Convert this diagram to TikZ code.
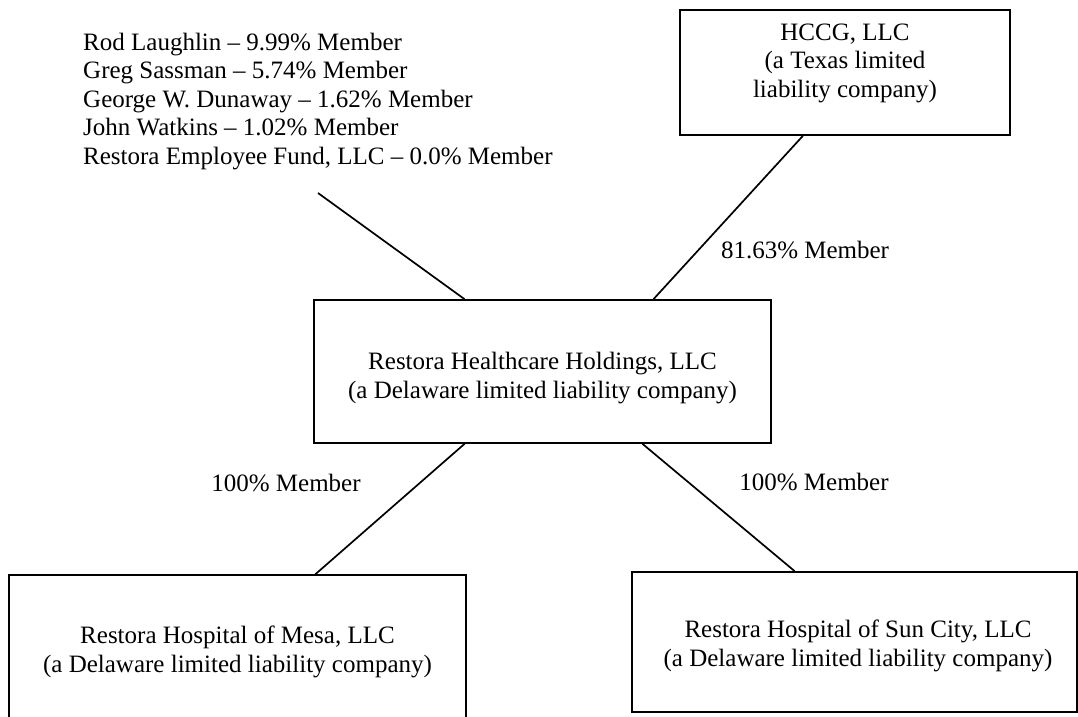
\documentclass[tikz,border=0pt]{standalone}
\usepackage{fontspec}
\setmainfont{Liberation Serif}
\usetikzlibrary{calc}
\begin{document}
\begin{tikzpicture}[x=1pt,y=-1pt,
  box/.style={draw=black,line width=1.7pt,inner sep=0pt,rectangle},
  conn/.style={draw=black,line width=1.7pt},
  txt/.style={font=\fontsize{25}{28.5}\selectfont,align=center,inner sep=0pt},
  listtxt/.style={font=\fontsize{25}{28.5}\selectfont,anchor=base west,inner sep=0pt}]
\useasboundingbox (0,0) rectangle (1078,716);
\clip (0,0) rectangle (1078,716);
\fill[white] (0,0) rectangle (1078,716);

% boxes
\node[box,minimum width=330pt,minimum height=125pt] (hccg) at (845,72.5) {};
\node[box,minimum width=457pt,minimum height=143pt] (rhh) at (542.5,371.5) {};
\node[box,minimum width=457pt,minimum height=170pt] (mesa) at (237.5,660) {};
\node[box,minimum width=445pt,minimum height=140pt] (sun) at (854.5,642) {};

% box texts
\node[txt] (hccgt) at (845,63) {HCCG, LLC\\(a Texas limited\\liability company)};
\node[txt] (rhht) at (542.5,378) {Restora Healthcare Holdings, LLC\\(a Delaware limited liability company)};
\node[txt] (mesat) at (237.5,652) {Restora Hospital of Mesa, LLC\\(a Delaware limited liability company)};
\node[txt] (sunt) at (858,646) {Restora Hospital of Sun City, LLC\\(a Delaware limited liability company)};

% member list
\node[listtxt] (m1) at (83,50) {Rod Laughlin -- 9.99\% Member};
\node[listtxt] (m2) at (83,78.5) {Greg Sassman -- 5.74\% Member};
\node[listtxt] (m3) at (83,107) {George W. Dunaway -- 1.62\% Member};
\node[listtxt] (m4) at (83,135.5) {John Watkins -- 1.02\% Member};
\node[listtxt] (m5) at (83,164) {Restora Employee Fund, LLC -- 0.0\% Member};
\coordinate (lstart) at (318,193);

% connectors
\draw[conn] (lstart) -- ($(rhh.north west)!0.330!(rhh.north east)$);
\draw[conn] ($(hccg.south west)!0.373!(hccg.south east)$) -- ($(rhh.north west)!0.742!(rhh.north east)$);
\draw[conn] ($(rhh.south west)!0.330!(rhh.south east)$) -- ($(mesa.north west)!0.670!(mesa.north east)$);
\draw[conn] ($(rhh.south west)!0.718!(rhh.south east)$) -- ($(sun.north west)!0.366!(sun.north east)$);

% labels
\node[txt] (l1) at (805,250) {81.63\% Member};
\node[txt] (l2) at (286,483) {100\% Member};
\node[txt] (l3) at (814,482) {100\% Member};
\end{tikzpicture}
\end{document}
